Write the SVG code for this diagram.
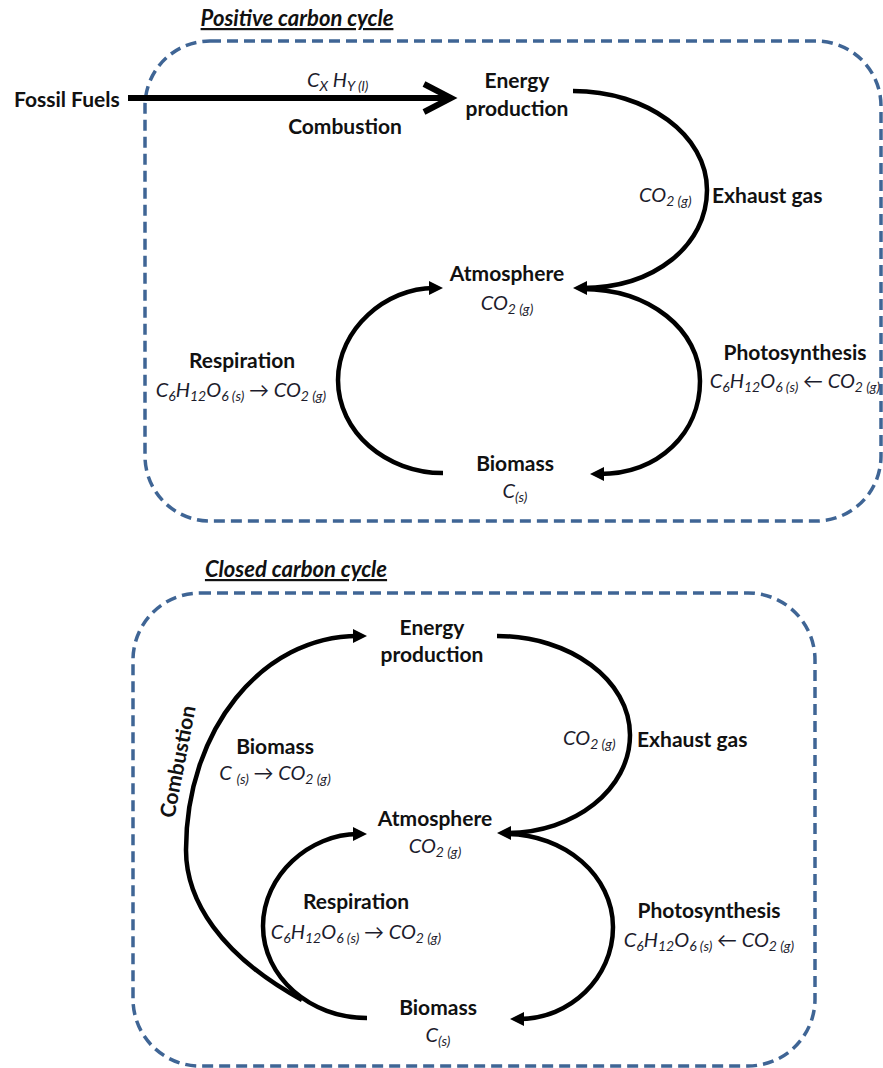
<svg xmlns="http://www.w3.org/2000/svg" width="883" height="1068" viewBox="0 0 883 1068">
  <style>
    .frame { fill: none; stroke: #3f6595; stroke-width: 3.5; stroke-dasharray: 11 6; }
    .flow { fill: none; stroke: #000; stroke-width: 4.5; marker-end: url(#head); }
    .lbl { font-family: Lato, "Liberation Sans", sans-serif; font-weight: bold; font-size: 21px; fill: #111; }
    .chem { font-family: Lato, "Liberation Sans", sans-serif; font-style: italic; font-size: 20px; fill: #1c1c2c; }
    .ttl { font-family: Lato, "Liberation Sans", sans-serif; font-weight: bold; font-style: italic; font-size: 22px; fill: #111; text-decoration: underline; }
    .sub { font-size: 14px; }
  </style>
  <defs>
    <marker id="head" viewBox="0 0 14 14" markerWidth="14" markerHeight="14" markerUnits="userSpaceOnUse" refX="5" refY="7" orient="auto">
      <path d="M0 0 L14 7 L0 14 Z" fill="#000"/>
    </marker>
  </defs>
  <rect width="883" height="1068" fill="#fff"/>

  <!-- ===== Positive carbon cycle ===== -->
  <g id="positive-frame">
    <rect class="frame" x="145" y="41" width="736" height="480" rx="65" ry="65"/>
    <text class="ttl" x="297" y="26" text-anchor="middle">Positive carbon cycle</text>
  </g>

  <g id="fossil-fuels">
    <text class="lbl" x="14" y="107">Fossil Fuels</text>
  </g>

  <g id="energy-production-1">
    <text class="lbl" x="517" y="88" text-anchor="middle">Energy</text>
    <text class="lbl" x="517" y="116" text-anchor="middle">production</text>
  </g>

  <g id="atmosphere-1">
    <text class="lbl" x="507" y="281" text-anchor="middle">Atmosphere</text>
    <text class="chem" x="507" y="310" text-anchor="middle">CO<tspan class="sub" dy="4">2 (g)</tspan></text>
  </g>

  <g id="biomass-1">
    <text class="lbl" x="515" y="471" text-anchor="middle">Biomass</text>
    <text class="chem" x="515" y="498" text-anchor="middle">C<tspan class="sub" dy="4">(s)</tspan></text>
  </g>

  <g id="connectors-1">
    <!-- combustion of fossil fuels -->
    <line x1="128" y1="98" x2="449" y2="98" stroke="#000" stroke-width="6"/>
    <polyline points="424,84 451,98 424,112" fill="none" stroke="#000" stroke-width="6" stroke-linejoin="miter"/>
    <!-- exhaust gas -->
    <path class="flow" d="M573 91 C647 91 707 135 707 190 C707 245 655 288 582 288"/>
    <!-- photosynthesis -->
    <path class="flow" d="M582 289 C650 289 700 330 700 381 C700 432 660 474 599 474"/>
    <!-- respiration -->
    <path class="flow" d="M443 473 C386 473 338 432 338 380 C338 329 386 288 434 288"/>
  </g>

  <g id="edge-labels-1">
    <text class="chem" x="307" y="87">C<tspan class="sub" dy="4">X</tspan><tspan dy="-4"> H</tspan><tspan class="sub" dy="4">Y (l)</tspan></text>
    <text class="lbl" x="345" y="134" text-anchor="middle">Combustion</text>
    <text class="chem" x="639" y="202">CO<tspan class="sub" dy="4">2 (g)</tspan></text>
    <text class="lbl" x="712" y="203">Exhaust gas</text>
    <text class="lbl" x="242" y="368" text-anchor="middle">Respiration</text>
    <text class="chem" x="241" y="397" text-anchor="middle">C<tspan class="sub" dy="4">6</tspan><tspan dy="-4">H</tspan><tspan class="sub" dy="4">12</tspan><tspan dy="-4">O</tspan><tspan class="sub" dy="4">6 (s)</tspan><tspan dy="-4"> → CO</tspan><tspan class="sub" dy="4">2 (g)</tspan></text>
    <text class="lbl" x="795" y="360" text-anchor="middle">Photosynthesis</text>
    <text class="chem" x="795" y="388" text-anchor="middle">C<tspan class="sub" dy="4">6</tspan><tspan dy="-4">H</tspan><tspan class="sub" dy="4">12</tspan><tspan dy="-4">O</tspan><tspan class="sub" dy="4">6 (s)</tspan><tspan dy="-4"> ← CO</tspan><tspan class="sub" dy="4">2 (g)</tspan></text>
  </g>

  <!-- ===== Closed carbon cycle ===== -->
  <g id="closed-frame">
    <rect class="frame" x="133" y="593" width="682" height="473" rx="67" ry="67"/>
    <text class="ttl" x="296" y="577" text-anchor="middle">Closed carbon cycle</text>
  </g>

  <g id="energy-production-2">
    <text class="lbl" x="432" y="635" text-anchor="middle">Energy</text>
    <text class="lbl" x="432" y="662" text-anchor="middle">production</text>
  </g>

  <g id="atmosphere-2">
    <text class="lbl" x="435" y="826" text-anchor="middle">Atmosphere</text>
    <text class="chem" x="435" y="853" text-anchor="middle">CO<tspan class="sub" dy="4">2 (g)</tspan></text>
  </g>

  <g id="biomass-2">
    <text class="lbl" x="438" y="1015" text-anchor="middle">Biomass</text>
    <text class="chem" x="438" y="1042" text-anchor="middle">C<tspan class="sub" dy="4">(s)</tspan></text>
  </g>

  <g id="connectors-2">
    <!-- combustion of biomass -->
    <path class="flow" d="M302 1000 C220 955 186 900 186 850 C186 730 262 636 358 636"/>
    <!-- exhaust gas -->
    <path class="flow" d="M497 636 C570 636 630 680 630 735 C630 789 575 833 506 833"/>
    <!-- photosynthesis -->
    <path class="flow" d="M506 834 C565 834 613 876 613 927 C613 978 570 1019 519 1019"/>
    <!-- respiration -->
    <path class="flow" d="M367 1018 C310 1018 263 977 263 926 C263 875 310 834 358 834"/>
  </g>

  <g id="edge-labels-2">
    <text class="lbl" transform="translate(185 763) rotate(-79)" text-anchor="middle">Combustion</text>
    <text class="lbl" x="275" y="754" text-anchor="middle">Biomass</text>
    <text class="chem" x="275" y="780" text-anchor="middle">C <tspan class="sub" dy="4">(s)</tspan><tspan dy="-4"> → CO</tspan><tspan class="sub" dy="4">2 (g)</tspan></text>
    <text class="chem" x="563" y="745">CO<tspan class="sub" dy="4">2 (g)</tspan></text>
    <text class="lbl" x="637" y="747">Exhaust gas</text>
    <text class="lbl" x="356" y="909" text-anchor="middle">Respiration</text>
    <text class="chem" x="356" y="939" text-anchor="middle">C<tspan class="sub" dy="4">6</tspan><tspan dy="-4">H</tspan><tspan class="sub" dy="4">12</tspan><tspan dy="-4">O</tspan><tspan class="sub" dy="4">6 (s)</tspan><tspan dy="-4"> → CO</tspan><tspan class="sub" dy="4">2 (g)</tspan></text>
    <text class="lbl" x="709" y="918" text-anchor="middle">Photosynthesis</text>
    <text class="chem" x="709" y="947" text-anchor="middle">C<tspan class="sub" dy="4">6</tspan><tspan dy="-4">H</tspan><tspan class="sub" dy="4">12</tspan><tspan dy="-4">O</tspan><tspan class="sub" dy="4">6 (s)</tspan><tspan dy="-4"> ← CO</tspan><tspan class="sub" dy="4">2 (g)</tspan></text>
  </g>
</svg>
